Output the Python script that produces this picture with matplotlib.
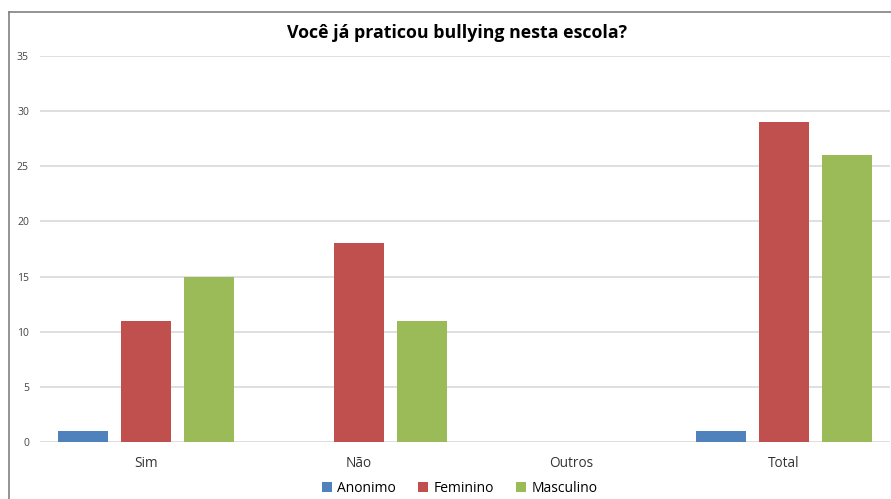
import matplotlib.pyplot as plt
from matplotlib.lines import Line2D
import numpy as np

categorias = ['Sim', 'Não', 'Outros', 'Total']
anonimo = [1, 0, 0, 1]
feminino = [11, 18, 0, 29]
masculino = [15, 11, 0, 26]

series = [('Anonimo', anonimo, '#4F81BD'),
          ('Feminino', feminino, '#C0504D'),
          ('Masculino', masculino, '#9BBB59')]

plt.rcParams['font.family'] = ['Open Sans', 'DejaVu Sans']

fig = plt.figure(figsize=(8.91, 4.99), dpi=100)
ax = fig.add_axes([0.0449, 0.1142, 0.9540, 0.7736])

x = np.arange(len(categorias))
passo = 0.296
largura = 0.235
for i, (nome, vals, cor) in enumerate(series):
    ax.bar(x + (i - 1) * passo, vals, largura, color=cor, label=nome, zorder=3)

ax.set_xlim(-0.5, 3.5)
ax.set_ylim(0, 35)
ax.set_yticks(range(0, 36, 5))
ax.set_xticks(x)
ax.set_xticklabels(categorias, fontsize=9.8, color='#333333')
ax.tick_params(axis='y', labelsize=7.5, colors='#444444', length=0, pad=8)
ax.tick_params(axis='x', length=0, pad=10)
ax.grid(axis='y', color='#D9D9D9', linewidth=1.2, zorder=0)
for s in ax.spines.values():
    s.set_visible(False)

fig.text(0.513, 0.934, 'Você já praticou bullying nesta escola?', ha='center', va='center',
         fontsize=12.8, fontweight='bold', color='black')

# moldura do gráfico
fig.add_artist(Line2D([0.0101, 1.0], [0.976, 0.976], color='#808080', linewidth=1.2))
fig.add_artist(Line2D([0.0101, 0.0101], [0.0, 0.976], color='#808080', linewidth=1.2))

fig.legend(loc='center', bbox_to_anchor=(0.516, 0.022), ncol=3, frameon=False,
           fontsize=10, handlelength=0.7, handleheight=0.7, handletextpad=0.4, columnspacing=1.6)

fig.savefig('out.png', dpi=100)
